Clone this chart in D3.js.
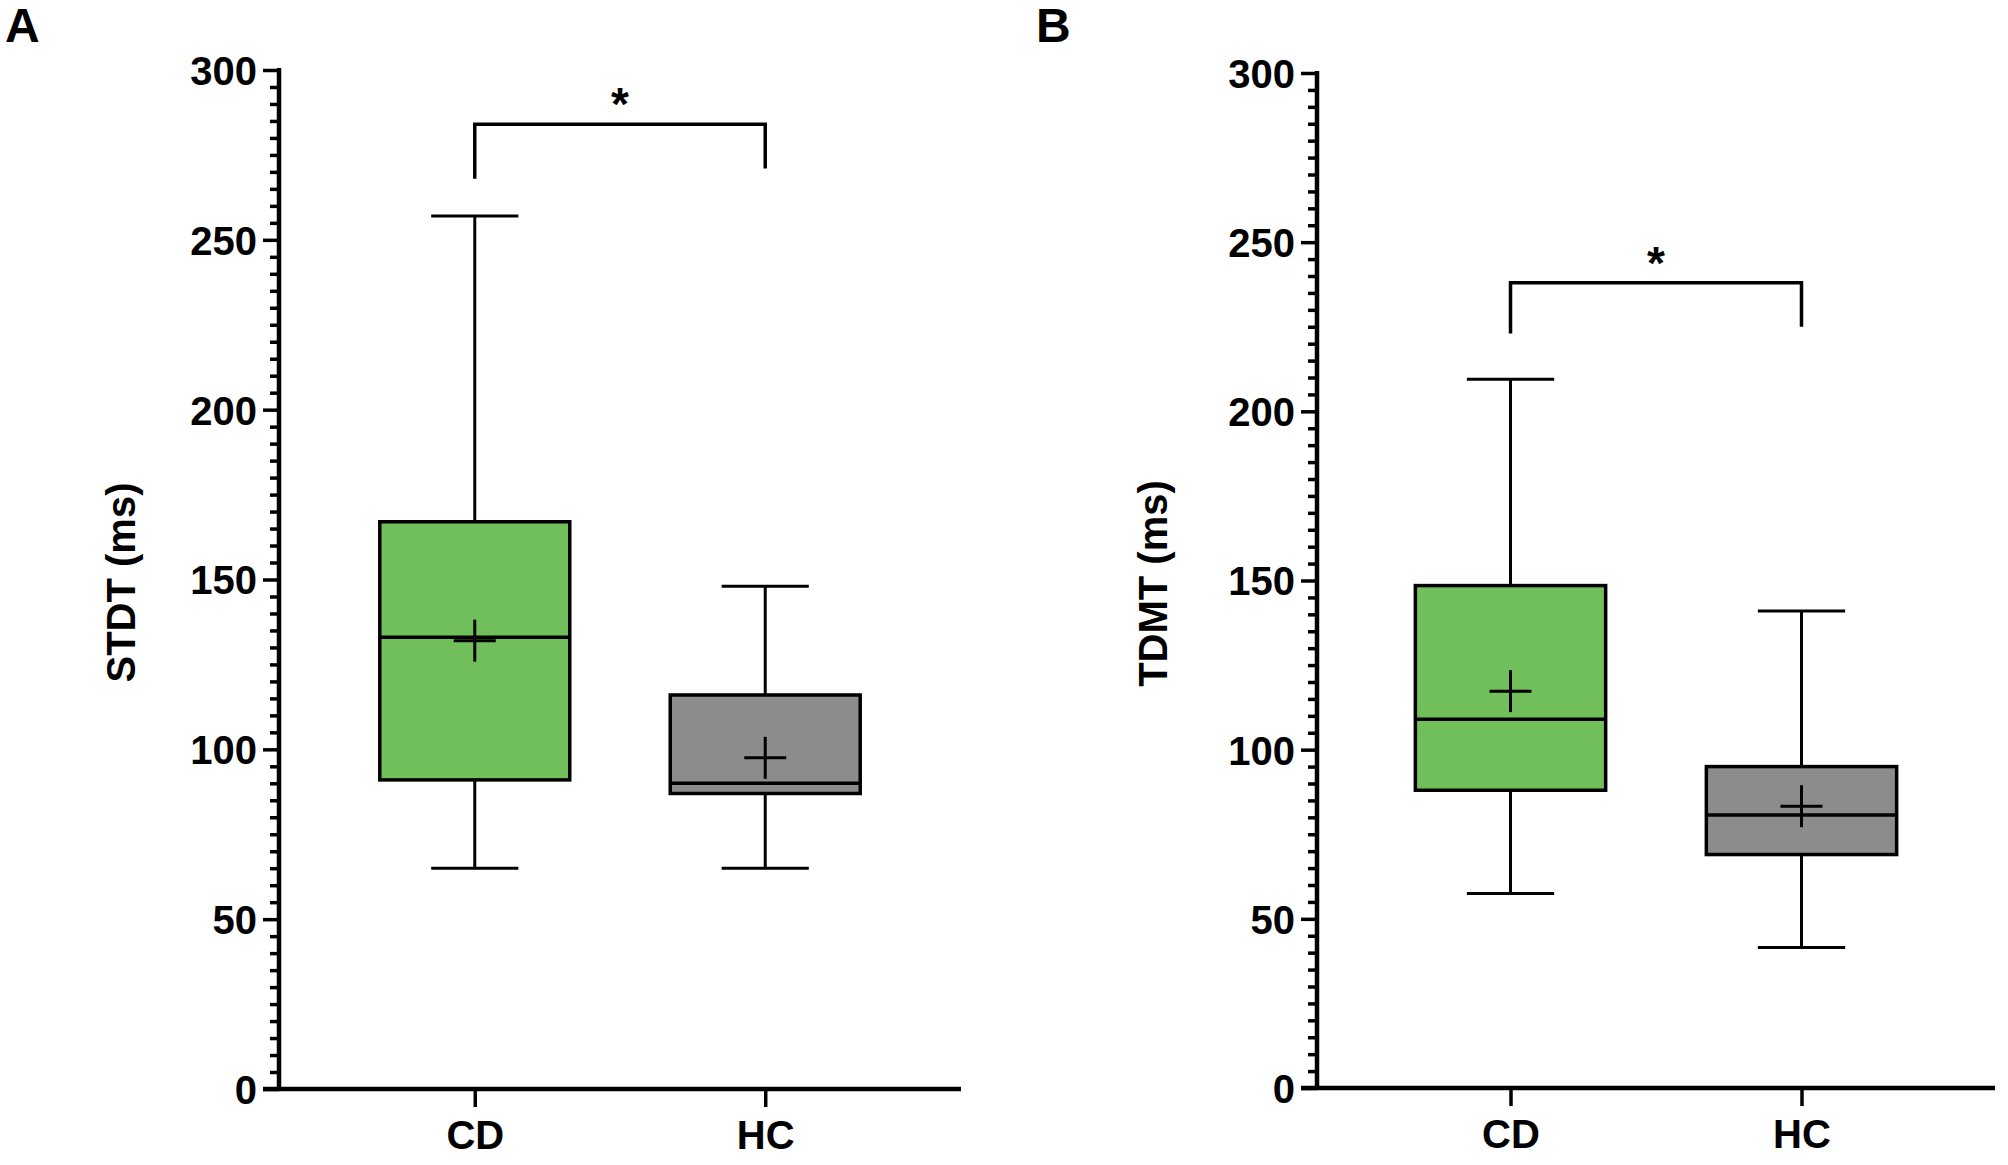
<!DOCTYPE html>
<html>
<head>
<meta charset="utf-8">
<script src="https://cdn.jsdelivr.net/npm/d3@7"></script>
<style>
  html, body { margin: 0; padding: 0; background: #fff; }
  svg { display: block; }
  text { font-family: "Liberation Sans", Arial, sans-serif; font-weight: bold; fill: #000; }
</style>
</head>
<body>
<svg id="chart" width="2008" height="1165"></svg>
<script>
// ---- data ----
const categories = ["CD", "HC"];
const yTickLabels = [0, 50, 100, 150, 200, 250, 300];

// Panel A: STDT (ms)
const stdtMin    = [65, 65];
const stdtQ1     = [91, 87];
const stdtMedian = [133, 90];
const stdtQ3     = [167, 116];
const stdtMax    = [257, 148];
const stdtMean   = [132, 97.5];
const stdtSig    = { bar: 284, legLeft: 268, legRight: 271, label: "*" };

// Panel B: TDMT (ms)
const tdmtMin    = [57.5, 41.5];
const tdmtQ1     = [88, 69];
const tdmtMedian = [109, 80.7];
const tdmtQ3     = [148.5, 95];
const tdmtMax    = [209.5, 141];
const tdmtMean   = [117.3, 83.3];
const tdmtSig    = { bar: 238, legLeft: 223, legRight: 225, label: "*" };

const colors = ["#71bf5a", "#8c8c8c"];

const panels = [
  { letter: "A", title: "STDT (ms)", min: stdtMin, q1: stdtQ1, med: stdtMedian, q3: stdtQ3, max: stdtMax, mean: stdtMean, sig: stdtSig,
    axisX: 279, xEnd: 961, yTop: 70, yBottom: 1089, titleX: 121, letterX: 5, pad: 0.674 },
  { letter: "B", title: "TDMT (ms)", min: tdmtMin, q1: tdmtQ1, med: tdmtMedian, q3: tdmtQ3, max: tdmtMax, mean: tdmtMean, sig: tdmtSig,
    axisX: 1317, xEnd: 1995, yTop: 73, yBottom: 1088, titleX: 1153, letterX: 1036, pad: 0.665 }
];

const svg = d3.select("#chart");

panels.forEach(p => {
  const g = svg.append("g");
  const y = d3.scaleLinear().domain([0, 300]).range([p.yBottom, p.yTop]);
  const x = d3.scalePoint().domain(categories).range([p.axisX, p.xEnd]).padding(p.pad);
  const step = x.step();
  const boxW = step * 0.654;
  const capW = step * 0.30;
  const crossW = 42;

  // panel letter
  g.append("text").attr("x", p.letterX).attr("y", 42)
    .attr("font-size", 48).text(p.letter);

  // y-axis title
  g.append("text")
    .attr("transform", `translate(${p.titleX + 14},${(p.yTop + p.yBottom) / 2 + 3}) rotate(-90)`)
    .attr("text-anchor", "middle")
    .attr("font-size", 40)
    .text(p.title);

  // minor ticks
  const minor = d3.range(0, 301, 5).filter(v => v % 50 !== 0);
  const minorAxis = g.append("g").attr("transform", `translate(${p.axisX},0)`)
    .call(d3.axisLeft(y).tickValues(minor).tickSize(9).tickFormat(""));
  minorAxis.select(".domain").remove();
  minorAxis.selectAll("line").attr("stroke", "#000").attr("stroke-width", 3.5);

  // major axis
  const yAxis = g.append("g").attr("transform", `translate(${p.axisX},0)`)
    .call(d3.axisLeft(y).tickValues(yTickLabels).tickSize(16).tickSizeOuter(0).tickPadding(6));
  yAxis.select(".domain").attr("stroke", "#000").attr("stroke-width", 4.5)
    .attr("d", `M0,${p.yTop - 2}V${p.yBottom}`);
  yAxis.selectAll(".tick line").attr("stroke", "#000").attr("stroke-width", 3.5);
  yAxis.selectAll(".tick text").attr("font-size", 40)
    .attr("font-family", '"Liberation Sans", Arial, sans-serif').attr("font-weight", "bold")
    .attr("dy", "0.36em");

  // x axis
  const xAxis = g.append("g").attr("transform", `translate(0,${p.yBottom})`)
    .call(d3.axisBottom(x).tickSize(18).tickSizeOuter(0).tickPadding(14));
  xAxis.select(".domain").attr("stroke", "#000").attr("stroke-width", 4.5)
    .attr("d", `M${p.axisX - 16},0H${p.xEnd}`);
  xAxis.selectAll(".tick line").attr("stroke", "#000").attr("stroke-width", 3.5);
  xAxis.selectAll(".tick text").attr("font-size", 40)
    .attr("font-family", '"Liberation Sans", Arial, sans-serif').attr("font-weight", "bold");

  const data = categories.map((c, i) => ({
    c, i, min: p.min[i], q1: p.q1[i], med: p.med[i], q3: p.q3[i], max: p.max[i], mean: p.mean[i]
  }));

  const bx = g.append("g").selectAll("g").data(data).join("g");
  const lineStyle = sel => sel.attr("stroke", "#000").attr("stroke-width", 3);

  // whiskers
  bx.append("line").attr("x1", d => x(d.c)).attr("x2", d => x(d.c))
    .attr("y1", d => y(d.max)).attr("y2", d => y(d.q3)).call(lineStyle);
  bx.append("line").attr("x1", d => x(d.c)).attr("x2", d => x(d.c))
    .attr("y1", d => y(d.q1)).attr("y2", d => y(d.min)).call(lineStyle);
  bx.append("line").attr("x1", d => x(d.c) - capW / 2).attr("x2", d => x(d.c) + capW / 2)
    .attr("y1", d => y(d.max)).attr("y2", d => y(d.max)).call(lineStyle);
  bx.append("line").attr("x1", d => x(d.c) - capW / 2).attr("x2", d => x(d.c) + capW / 2)
    .attr("y1", d => y(d.min)).attr("y2", d => y(d.min)).call(lineStyle);

  // box
  bx.append("rect")
    .attr("x", d => x(d.c) - boxW / 2).attr("width", boxW)
    .attr("y", d => y(d.q3)).attr("height", d => y(d.q1) - y(d.q3))
    .attr("fill", d => colors[d.i]).call(lineStyle).attr("stroke-width", 3.5);

  // median
  bx.append("line").attr("x1", d => x(d.c) - boxW / 2).attr("x2", d => x(d.c) + boxW / 2)
    .attr("y1", d => y(d.med)).attr("y2", d => y(d.med)).call(lineStyle).attr("stroke-width", 3.5);

  // mean cross
  bx.append("line").attr("x1", d => x(d.c) - crossW / 2).attr("x2", d => x(d.c) + crossW / 2)
    .attr("y1", d => y(d.mean)).attr("y2", d => y(d.mean)).call(lineStyle);
  bx.append("line").attr("x1", d => x(d.c)).attr("x2", d => x(d.c))
    .attr("y1", d => y(d.mean) - crossW / 2).attr("y2", d => y(d.mean) + crossW / 2).call(lineStyle);

  // significance bracket
  const xl = x(categories[0]), xr = x(categories[1]);
  g.append("path")
    .attr("d", `M${xl},${y(p.sig.legLeft)}V${y(p.sig.bar)}H${xr}V${y(p.sig.legRight)}`)
    .attr("fill", "none").attr("stroke", "#000").attr("stroke-width", 3.5);
  g.append("text").attr("x", (xl + xr) / 2).attr("y", y(p.sig.bar) - 4)
    .attr("text-anchor", "middle").attr("font-size", 46).text(p.sig.label);
});
</script>
</body>
</html>
